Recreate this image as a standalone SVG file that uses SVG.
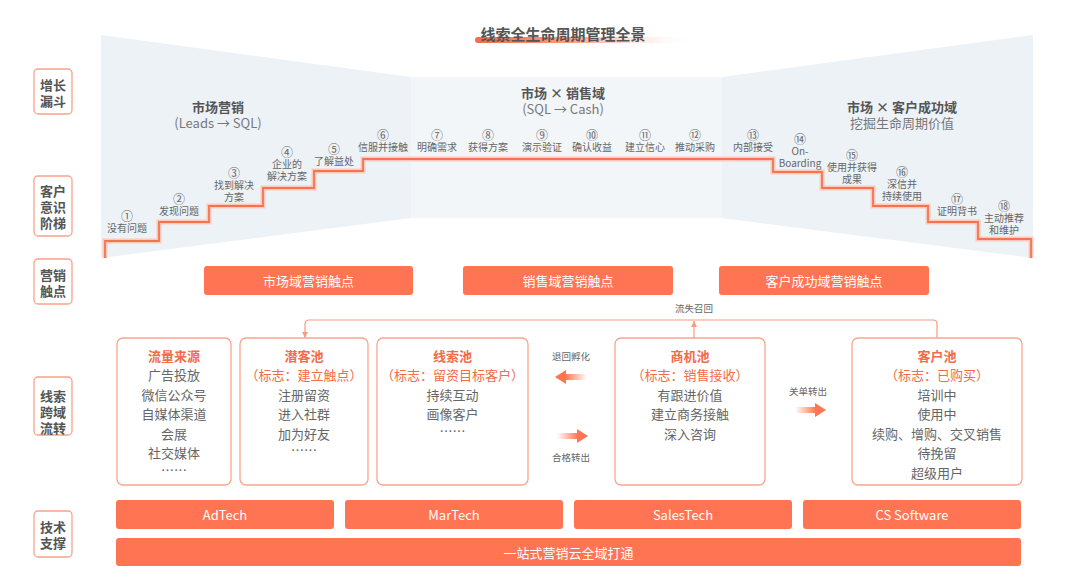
<svg xmlns="http://www.w3.org/2000/svg" width="1080" height="584" viewBox="0 0 1080 584">
<defs>
<linearGradient id="tg" x1="0" x2="1" y1="0" y2="0">
<stop offset="0" stop-color="#f26a4b"/>
<stop offset="0.45" stop-color="#f68a6d" stop-opacity="0.85"/>
<stop offset="1" stop-color="#fde3da" stop-opacity="0"/>
</linearGradient>
<linearGradient id="gR" x1="0" x2="1" y1="0" y2="0">
<stop offset="0" stop-color="#ff7452" stop-opacity="0"/>
<stop offset="1" stop-color="#ff7452"/>
</linearGradient>
<linearGradient id="gL" x1="0" x2="1" y1="0" y2="0">
<stop offset="0" stop-color="#ff7452"/>
<stop offset="1" stop-color="#ff7452" stop-opacity="0"/>
</linearGradient>
<marker id="ah" viewBox="0 0 8 8" refX="8" refY="4" markerWidth="6" markerHeight="6" markerUnits="userSpaceOnUse" orient="auto">
<path d="M0,0 L8,4 L0,8 z" fill="#f79a80"/>
</marker>
</defs>
<style>
text{font-family:"Noto Sans CJK SC","Noto Sans",sans-serif;dominant-baseline:central}
.lab rect{fill:#fff;stroke:#f9a38b;stroke-width:1.3}
.lab text{font-size:13px;font-weight:700;fill:#555;text-anchor:middle}
.hd{font-size:13px;font-weight:700;fill:#555;text-anchor:middle}
.sub{font-size:13px;fill:#777;text-anchor:middle}
.st{font-size:10px;fill:#666;text-anchor:middle}
.n{font-size:12px}
.bar rect{fill:#ff7452}
.bar text{fill:#fff;font-size:13px;text-anchor:middle}
.pool rect{fill:#fff;stroke:#f9a58d;stroke-width:1.3}
.pool text{font-size:13px;fill:#666;text-anchor:middle}
.pool .t{fill:#f26b4a;font-weight:700}
.pool .o{fill:#f26b4a}
.sm{font-size:9.5px;fill:#666;text-anchor:middle}
.cn{fill:none;stroke:#f79a80;stroke-width:1.2}
</style>

<!-- title -->
<g id="title">
<rect x="475" y="37" width="212" height="6" rx="3" fill="url(#tg)"/>
<text x="563" y="33" style="font-size:15px;font-weight:700;fill:#555;text-anchor:middle">线索全生命周期管理全景</text>
</g>

<!-- funnel background -->
<g id="funnel">
<polygon points="101,35 411,77 411,218 101,258" fill="#edf2f7"/>
<polygon points="411,77 722,77 722,218 411,218" fill="#f3f6f9"/>
<polygon points="722,77 1033,35 1033,258 722,218" fill="#edf2f7"/>
<text class="hd" x="218" y="106">市场营销</text>
<text class="sub" x="218" y="122">(Leads → SQL)</text>
<text class="hd" x="563" y="92">市场 × 销售域</text>
<text class="sub" x="563" y="108">(SQL → Cash)</text>
<text class="hd" x="902" y="106">市场 × 客户成功域</text>
<text class="sub" x="902" y="122">挖掘生命周期价值</text>
</g>

<!-- stairs -->
<g id="stairs">
<path d="M105,258 V241 H159 V222 H209 V206 H263 V188 H314 V171 H363 V159 H773 V172 H822 V188 H873 V206 H928 V222 H978 V239 H1031 V258" fill="none" stroke="#fcc9ba" stroke-width="5"/>
<path d="M105,258 V241 H159 V222 H209 V206 H263 V188 H314 V171 H363 V159 H773 V172 H822 V188 H873 V206 H928 V222 H978 V239 H1031 V258" fill="none" stroke="#f47452" stroke-width="1.8"/>
<text class="st" x="127" y="215"><tspan class="n">①</tspan><tspan x="127" dy="12">没有问题</tspan></text>
<text class="st" x="179" y="198"><tspan class="n">②</tspan><tspan x="179" dy="12">发现问题</tspan></text>
<text class="st" x="234" y="172"><tspan class="n">③</tspan><tspan x="234" dy="12">找到解决</tspan><tspan x="234" dy="12">方案</tspan></text>
<text class="st" x="287" y="151"><tspan class="n">④</tspan><tspan x="287" dy="12">企业的</tspan><tspan x="287" dy="12">解决方案</tspan></text>
<text class="st" x="334" y="148"><tspan class="n">⑤</tspan><tspan x="334" dy="12">了解益处</tspan></text>
<text class="st" x="383" y="134"><tspan class="n">⑥</tspan><tspan x="383" dy="12">信服并接触</tspan></text>
<text class="st" x="437" y="134"><tspan class="n">⑦</tspan><tspan x="437" dy="12">明确需求</tspan></text>
<text class="st" x="488" y="134"><tspan class="n">⑧</tspan><tspan x="488" dy="12">获得方案</tspan></text>
<text class="st" x="542" y="134"><tspan class="n">⑨</tspan><tspan x="542" dy="12">演示验证</tspan></text>
<text class="st" x="592" y="134"><tspan class="n">⑩</tspan><tspan x="592" dy="12">确认收益</tspan></text>
<text class="st" x="645" y="134"><tspan class="n">⑪</tspan><tspan x="645" dy="12">建立信心</tspan></text>
<text class="st" x="695" y="134"><tspan class="n">⑫</tspan><tspan x="695" dy="12">推动采购</tspan></text>
<text class="st" x="753" y="134"><tspan class="n">⑬</tspan><tspan x="753" dy="12">内部接受</tspan></text>
<text class="st" x="800" y="138"><tspan class="n">⑭</tspan><tspan x="800" dy="12">On-</tspan><tspan x="800" dy="12">Boarding</tspan></text>
<text class="st" x="852" y="154"><tspan class="n">⑮</tspan><tspan x="852" dy="12">使用并获得</tspan><tspan x="852" dy="12">成果</tspan></text>
<text class="st" x="902" y="171"><tspan class="n">⑯</tspan><tspan x="902" dy="12">深信并</tspan><tspan x="902" dy="12">持续使用</tspan></text>
<text class="st" x="957" y="198"><tspan class="n">⑰</tspan><tspan x="957" dy="12">证明背书</tspan></text>
<text class="st" x="1004" y="205"><tspan class="n">⑱</tspan><tspan x="1004" dy="12">主动推荐</tspan><tspan x="1004" dy="12">和维护</tspan></text>
</g>

<!-- left labels -->
<g id="label-funnel" class="lab"><rect x="34" y="69" width="38" height="45" rx="4"/><text x="53" y="84">增长<tspan x="53" dy="16">漏斗</tspan></text></g>
<g id="label-ladder" class="lab"><rect x="34" y="176" width="38" height="60" rx="4"/><text x="53" y="190">客户<tspan x="53" dy="16">意识</tspan><tspan x="53" dy="16">阶梯</tspan></text></g>
<g id="label-touch" class="lab"><rect x="34" y="259" width="38" height="45" rx="4"/><text x="53" y="274">营销<tspan x="53" dy="16">触点</tspan></text></g>
<g id="label-flow" class="lab"><rect x="34" y="377" width="38" height="58" rx="4"/><text x="53" y="395">线索<tspan x="53" dy="16">跨域</tspan><tspan x="53" dy="16">流转</tspan></text></g>
<g id="label-tech" class="lab"><rect x="34" y="511" width="38" height="46" rx="4"/><text x="53" y="526">技术<tspan x="53" dy="16">支撑</tspan></text></g>

<!-- touchpoint bars -->
<g id="tp-market" class="bar"><rect x="204" y="266" width="209" height="29" rx="3"/><text x="308.5" y="280.5">市场域营销触点</text></g>
<g id="tp-sales" class="bar"><rect x="463" y="266" width="210" height="29" rx="3"/><text x="568" y="280.5">销售域营销触点</text></g>
<g id="tp-cs" class="bar"><rect x="719" y="266" width="210" height="29" rx="3"/><text x="824" y="280.5">客户成功域营销触点</text></g>

<!-- connectors -->
<g id="connectors">
<path class="cn" d="M937,338 V324 Q937,320 933,320 H309 Q305,320 305,324 V338" marker-end="url(#ah)"/>
<path class="cn" d="M694,338 V321" marker-end="url(#ah)"/>
<text class="sm" x="694" y="308">流失召回</text>
<text class="sm" x="571" y="356">退回孵化</text>
<rect x="565" y="374" width="22" height="6" fill="url(#gL)"/>
<polygon points="555,377 566,370 566,384" fill="#ff7452"/>
<rect x="557" y="433" width="21" height="6" fill="url(#gR)"/>
<polygon points="588,436 577,429 577,443" fill="#ff7452"/>
<text class="sm" x="571" y="457">合格转出</text>
<text class="sm" x="808" y="391">关单转出</text>
<rect x="795" y="407" width="21" height="6" fill="url(#gR)"/>
<polygon points="826,410 815,403 815,417" fill="#ff7452"/>
</g>

<!-- pools -->
<g id="pool-traffic" class="pool">
<rect x="117" y="338" width="114" height="147" rx="6"/>
<text class="t" x="174" y="355">流量来源</text>
<text x="174" y="374.5">广告投放</text>
<text x="174" y="394">微信公众号</text>
<text x="174" y="413.5">自媒体渠道</text>
<text x="174" y="433">会展</text>
<text x="174" y="452.5">社交媒体</text>
<text x="174" y="469">……</text>
</g>
<g id="pool-prospect" class="pool">
<rect x="240" y="338" width="128" height="147" rx="6"/>
<text class="t" x="304" y="355">潜客池</text>
<text class="o" x="304" y="374.5">（标志：建立触点）</text>
<text x="304" y="394">注册留资</text>
<text x="304" y="413.5">进入社群</text>
<text x="304" y="433">加为好友</text>
<text x="304" y="449">……</text>
</g>
<g id="pool-lead" class="pool">
<rect x="377" y="338" width="151" height="147" rx="6"/>
<text class="t" x="452.5" y="355">线索池</text>
<text class="o" x="452.5" y="374.5">（标志：留资目标客户）</text>
<text x="452.5" y="394">持续互动</text>
<text x="452.5" y="413.5">画像客户</text>
<text x="452.5" y="430">……</text>
</g>
<g id="pool-opp" class="pool">
<rect x="615" y="338" width="150" height="147" rx="6"/>
<text class="t" x="690" y="355">商机池</text>
<text class="o" x="690" y="374.5">（标志：销售接收）</text>
<text x="690" y="394">有跟进价值</text>
<text x="690" y="413.5">建立商务接触</text>
<text x="690" y="433">深入咨询</text>
</g>
<g id="pool-customer" class="pool">
<rect x="852" y="338" width="170" height="147" rx="6"/>
<text class="t" x="937" y="355">客户池</text>
<text class="o" x="937" y="374.5">（标志：已购买）</text>
<text x="937" y="394">培训中</text>
<text x="937" y="413.5">使用中</text>
<text x="937" y="433">续购、增购、交叉销售</text>
<text x="937" y="452.5">待挽留</text>
<text x="937" y="472">超级用户</text>
</g>

<!-- tech bars -->
<g id="tech-ad" class="bar"><rect x="116" y="500" width="218" height="29" rx="3"/><text x="225" y="514.5">AdTech</text></g>
<g id="tech-mar" class="bar"><rect x="345" y="500" width="218" height="29" rx="3"/><text x="454" y="514.5">MarTech</text></g>
<g id="tech-sales" class="bar"><rect x="574" y="500" width="218" height="29" rx="3"/><text x="683" y="514.5">SalesTech</text></g>
<g id="tech-cs" class="bar"><rect x="803" y="500" width="218" height="29" rx="3"/><text x="912" y="514.5">CS Software</text></g>
<g id="tech-cloud" class="bar"><rect x="116" y="538" width="905" height="28" rx="3"/><text x="568.5" y="552">一站式营销云全域打通</text></g>
</svg>
